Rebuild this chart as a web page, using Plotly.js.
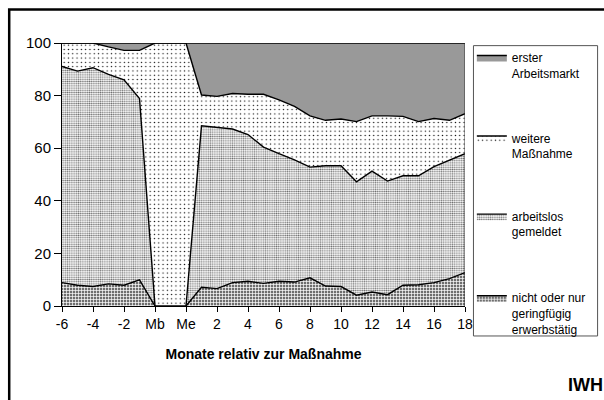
<!DOCTYPE html>
<html>
<head>
<meta charset="utf-8">
<script src="https://cdn.plot.ly/plotly-3.0.1.min.js"></script>
<style>html,body{margin:0;padding:0;background:#fff;}#chart{width:604px;height:400px;}</style>
</head>
<body>
<div id="chart"></div>
<script>
// Categories (months relative to the measure; one empty slot between Mb and Me)
var categories = ["-6","-5","-4","-3","-2","-1","Mb"," ","Me","1","2","3","4","5","6","7","8","9","10","11","12","13","14","15","16","17","18"];

// Series values (percent, stacked bottom to top)
var nichtErwerbstaetig = [8.9,7.9,7.4,8.4,7.9,9.9,0,0,0,7.1,6.6,8.9,9.4,8.6,9.4,9.1,10.7,7.6,7.4,4.1,5.3,4.3,7.9,8.1,8.9,10.4,12.7];
var arbeitslos        = [82.2,81.4,83.2,79.7,78.1,69.0,0,0,0,61.4,61.4,58.4,55.8,51.8,48.5,46.5,42.1,45.7,45.9,43.1,46.0,43.2,41.6,41.4,44.1,44.9,45.2];
var weitereMassnahme  = [8.9,10.7,9.4,10.4,11.2,18.3,100,100,100,11.7,11.7,13.5,15.3,20.1,20.5,20.3,19.5,17.3,17.8,22.9,21.0,24.8,22.6,20.6,18.3,15.3,15.2];
var ersterArbeitsmarkt= [0,0,0,1.5,2.8,2.8,0,0,0,19.8,20.3,19.2,19.5,19.5,21.6,24.1,27.7,29.4,28.9,29.9,27.7,27.7,27.9,29.9,28.7,29.4,26.9];

var seriesNames = ["nicht oder nur<br>geringfügig<br>erwerbstätig","arbeitslos<br>gemeldet","weitere<br>Maßnahme","erster<br>Arbeitsmarkt"];

var yTicks = [0,20,40,60,80,100];

var xIdx = categories.map(function(c,i){return i;});
var tickIdx = xIdx.filter(function(i){return i%2===0;});
var tickLbl = tickIdx.map(function(i){return categories[i];});

var patterns = [
  {shape:"+", fgcolor:"#ffffff", bgcolor:"#6e6e6e", size:3, solidity:0.4},
  {shape:".", fgcolor:"#707070", bgcolor:"#ffffff", size:2.2, solidity:0.42},
  {shape:".", fgcolor:"#000000", bgcolor:"#ffffff", size:4.3, solidity:0.08},
  {shape:".", fgcolor:"#000000", bgcolor:"#ffffff", size:2, solidity:0.45}
];
var data = [nichtErwerbstaetig, arbeitslos, weitereMassnahme, ersterArbeitsmarkt];
var legendIds = ["legend4","legend3","legend2","legend"];

var traces = data.map(function(vals,k){
  return {
    type:"scatter", mode:"lines", x:xIdx, y:vals, name:seriesNames[k],
    stackgroup:"one", legend:legendIds[k],
    line:{color:"#000", width:1.4, shape:"linear"},
    fillcolor:patterns[k].bgcolor,
    fillpattern:patterns[k],
    hoverinfo:"skip"
  };
});

var font = "Liberation Sans, Arial, sans-serif";
function legendAt(y){
  return {x:1.017, y:y, xanchor:"left", yanchor:"top", bgcolor:"rgba(0,0,0,0)", borderwidth:0,
          valign:"top", font:{family:font, size:12, color:"#000"}, itemwidth:30};
}
var layout = {
  width:604, height:400,
  margin:{l:62, r:139, t:43, b:94},
  paper_bgcolor:"#fff", plot_bgcolor:"#fff",
  font:{family:font, size:14, color:"#000"},
  showlegend:true,
  legend:legendAt(0.999),
  legend2:legendAt(0.693),
  legend3:legendAt(0.396),
  legend4:legendAt(0.0857),
  xaxis:{
    range:[0, categories.length-1], tickmode:"array", tickvals:tickIdx, ticktext:tickLbl,
    showgrid:false, zeroline:false, showline:true, linecolor:"#000", linewidth:1,
    ticks:"outside", ticklen:5, tickcolor:"#000",
    tickfont:{family:font, size:14},
    title:{text:"<b>Monate relativ zur Maßnahme</b>", font:{family:font, size:14}, standoff:18}
  },
  yaxis:{
    range:[0,100], tickmode:"array", tickvals:yTicks,
    showgrid:false, zeroline:false, showline:true, linecolor:"#000", linewidth:1,
    ticks:"outside", ticklen:7, tickcolor:"#000",
    tickfont:{family:font, size:15}
  },
  shapes:[
    {type:"rect", xref:"paper", yref:"paper", x0:-0.131, x1:1.37, y0:-0.45, y1:1.127, line:{color:"#000", width:2.5}, fillcolor:"rgba(0,0,0,0)", layer:"below"},
    {type:"rect", xref:"paper", yref:"paper", x0:1.021, x1:1.329, y0:-0.114, y1:0.99, line:{color:"#555", width:1}, fillcolor:"rgba(0,0,0,0)"},
    {type:"line", xref:"x", yref:"y", x0:categories.length-1, x1:categories.length-1, y0:0, y1:100, line:{color:"#333", width:1}}
  ],
  annotations:[
    {text:"<b>IWH</b>", xref:"paper", yref:"paper", x:1.25, y:-0.345, xanchor:"left", yanchor:"bottom", showarrow:false, font:{family:font, size:18, color:"#000"}}
  ]
};

Plotly.newPlot("chart", traces, layout, {staticPlot:true, displayModeBar:false});
</script>
</body>
</html>
